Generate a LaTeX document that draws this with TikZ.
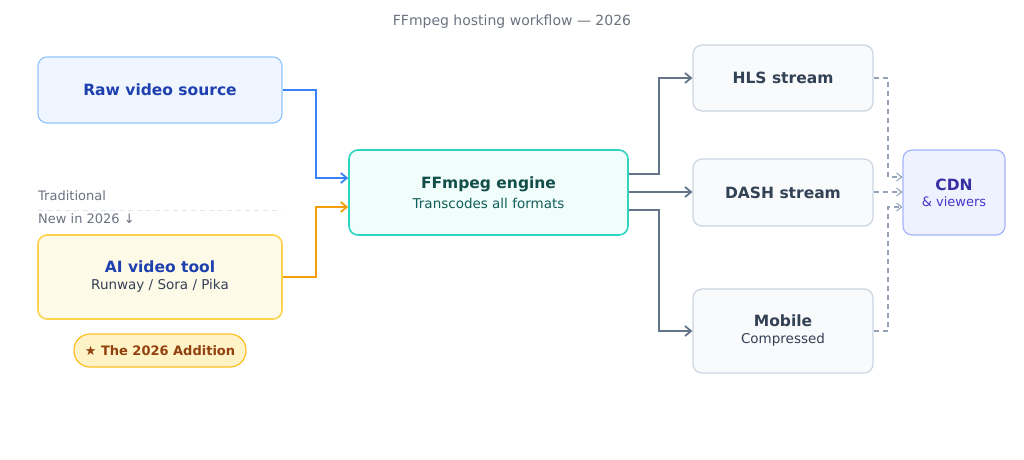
\documentclass[tikz,border=0pt]{standalone}
\usepackage{fontspec}
\setmainfont{DejaVu Sans}
\usetikzlibrary{arrows.meta}
\definecolor{tgray}{HTML}{6B7280}
\definecolor{bluefill}{HTML}{EFF6FF}\definecolor{blueline}{HTML}{93C5FD}\definecolor{bluetxt}{HTML}{1E40AF}
\definecolor{tealfill}{HTML}{F0FDFA}\definecolor{tealline}{HTML}{2DD4BF}\definecolor{tealtxt}{HTML}{134E4A}\definecolor{tealsub}{HTML}{115E59}
\definecolor{ylwfill}{HTML}{FEFAE8}\definecolor{ylwline}{HTML}{FCD34D}
\definecolor{slfill}{HTML}{F8FAFC}\definecolor{slline}{HTML}{CBD5E1}\definecolor{sltxt}{HTML}{334155}
\definecolor{cdnfill}{HTML}{EEF2FF}\definecolor{cdnline}{HTML}{A5B4FC}\definecolor{cdntxt}{HTML}{3730A3}\definecolor{cdnsub}{HTML}{4338CA}
\definecolor{badgefill}{HTML}{FEF3C7}\definecolor{badgeline}{HTML}{FBBF24}\definecolor{badgetxt}{HTML}{92400E}
\definecolor{arrblue}{HTML}{3B82F6}\definecolor{arrorange}{HTML}{F59E0B}\definecolor{arrslate}{HTML}{64748B}\definecolor{arrdash}{HTML}{94A3B8}
\begin{document}
\begin{tikzpicture}[x=1pt,y=-1pt,
 box/.style={rounded corners=9pt,line width=1.2pt,inner sep=0pt,align=center},
 conn/.style={line width=1.8pt,-{Straight Barb[length=6pt,width=10pt]}},
 dconn/.style={line width=1.1pt,dash pattern=on 5pt off 4pt,arrdash,-{Straight Barb[length=5pt,width=8pt]}}]
\useasboundingbox (0,0) rectangle (1024,459);
\node[tgray,font=\fontsize{14}{16}\selectfont] (title) at (512,22) {FFmpeg hosting workflow — 2026};
\node[box,fill=bluefill,draw=blueline,minimum width=244pt,minimum height=66pt] (raw) at (160,90) {\fontsize{15.5}{18}\selectfont\bfseries\color{bluetxt}Raw video source};
\node[box,fill=tealfill,draw=tealline,minimum width=279pt,minimum height=85pt,line width=1.6pt] (ff) at (488.5,192.5) {\fontsize{15.5}{18}\selectfont\bfseries\color{tealtxt}FFmpeg engine\\[5pt]\fontsize{13.5}{16}\selectfont\mdseries\color{tealsub}Transcodes all formats};
\node[box,fill=ylwfill,draw=ylwline,minimum width=244pt,minimum height=84pt,line width=1.6pt] (ai) at (160,277) {\fontsize{15.5}{18}\selectfont\bfseries\color{bluetxt}AI video tool\\[5pt]\fontsize{13.5}{16}\selectfont\mdseries\color{sltxt}Runway / Sora / Pika};
\node[rounded corners=16pt,fill=badgefill,draw=badgeline,line width=1.2pt,minimum width=172pt,minimum height=33pt] (badge) at (160,350.5) {};
\node[font=\fontsize{13}{15}\selectfont\bfseries,text=badgetxt] (badgetxt) at (160,351) {★ The 2026 Addition};
\node[tgray,anchor=west,font=\fontsize{13}{15}\selectfont,inner sep=0pt] (trad) at (38,196) {Traditional};
\node[tgray,anchor=west,font=\fontsize{13}{15}\selectfont,inner sep=0pt] (new) at (38,219) {New in 2026 ↓};
\coordinate (d1) at (38,210); \coordinate (d2) at (282,210);
\draw[slline!60,dash pattern=on 5pt off 4pt,line width=0.8pt] (d1) -- (d2);
\node[box,fill=slfill,draw=slline,minimum width=180pt,minimum height=66pt] (hls) at (783,78) {\fontsize{15.5}{18}\selectfont\bfseries\color{sltxt}HLS stream};
\node[box,fill=slfill,draw=slline,minimum width=180pt,minimum height=67pt] (dash) at (783,192.5) {\fontsize{15.5}{18}\selectfont\bfseries\color{sltxt}DASH stream};
\node[box,fill=slfill,draw=slline,minimum width=180pt,minimum height=84pt] (mob) at (783,331) {\fontsize{15.5}{18}\selectfont\bfseries\color{sltxt}Mobile\\[5pt]\fontsize{13.5}{16}\selectfont\mdseries\color{sltxt}Compressed};
\node[box,fill=cdnfill,draw=cdnline,minimum width=102pt,minimum height=85pt] (cdn) at (954,192.5) {\fontsize{15.5}{18}\selectfont\bfseries\color{cdntxt}CDN\\[4pt]\fontsize{13}{15}\selectfont\mdseries\color{cdnsub}\& viewers};
\draw[conn,arrblue] (raw.east) -- (316,90) |- (ff.west |- 0,178);
\draw[conn,arrorange] (ai.east) -- (316,277) |- (ff.west |- 0,207);
\draw[conn,arrslate] (ff.east |- 0,174) -- (659,174) |- (hls.west);
\draw[conn,arrslate] (ff.east |- 0,192) -- (dash.west |- 0,192);
\draw[conn,arrslate] (ff.east |- 0,210) -- (659,210) |- (mob.west);
\draw[dconn] (hls.east) -- (888,78) |- (cdn.west |- 0,177);
\draw[dconn] (dash.east |- 0,192) -- (cdn.west |- 0,192);
\draw[dconn] (mob.east) -- (888,331) |- (cdn.west |- 0,207);
\end{tikzpicture}
\end{document}
